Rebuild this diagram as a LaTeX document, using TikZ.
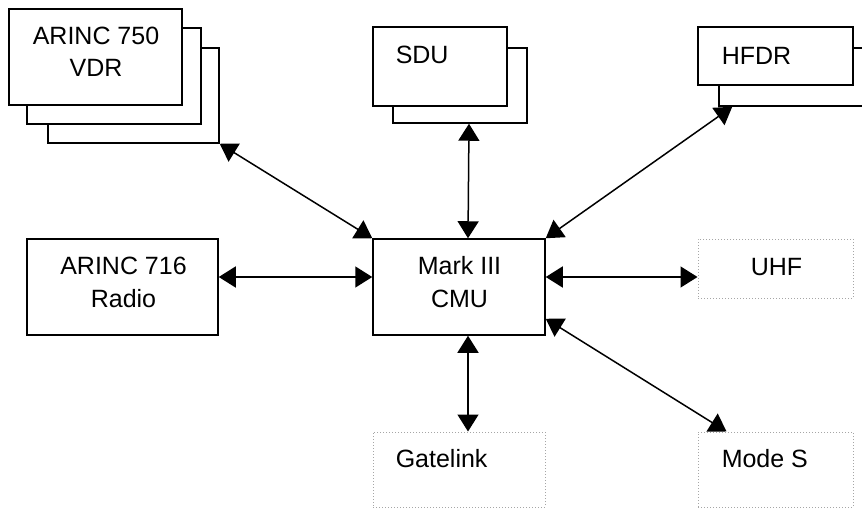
\documentclass[tikz,border=0pt]{standalone}
\usepackage{fontspec}
\setmainfont{Liberation Sans}
\usetikzlibrary{arrows.meta}
\begin{document}
\begin{tikzpicture}[x=1pt, y=-1pt, line width=1.5pt,
  unit node/.style={rectangle,draw,fill=white,inner sep=0pt},
  link node/.style={rectangle,draw=gray!70,dotted,line width=1pt,inner sep=0pt},
  link/.style={{Triangle[length=17pt,width=21pt]}-{Triangle[length=17pt,width=21pt]}}]
\useasboundingbox (0,0) rectangle (862,524);
\begin{scope}[every node/.style={unit node}]
\node[minimum width=171, minimum height=95] (vdr3) at (133.5,95.5) {};
\node[minimum width=174, minimum height=96] (vdr2) at (114,76) {};
\node[minimum width=173, minimum height=96] (vdr) at (95.5,57) {};
\node[minimum width=134, minimum height=75] (sdu2) at (460,85.5) {};
\node[minimum width=134, minimum height=79] (sdu) at (440,66.5) {};
\node[minimum width=155, minimum height=58] (hfdr2) at (796.5,77) {};
\node[minimum width=155, minimum height=58] (hfdr) at (775.5,56) {};
\node[minimum width=191, minimum height=96] (radio) at (122.5,287) {};
\node[minimum width=172, minimum height=96] (cmu) at (459,287) {};
%\node[] () at (,) {};
\end{scope}
\begin{scope}[every node/.style={link node}]
\node[minimum width=155, minimum height=59] (uhf) at (775.5,268.5) {};
\node[minimum width=172, minimum height=75] (gate) at (459,469.5) {};
\node[minimum width=155, minimum height=75] (modes) at (775.5,469.5) {};
\end{scope}
\begin{scope}[every node/.style={font=\fontsize{25}{32.5}\selectfont,inner sep=0pt,align=center}]
\node[anchor=base] (vdr-t) at (96,77) {ARINC 750\\VDR};
\node[anchor=base west] (sdu-t) at (395,64) {SDU};
\node[anchor=base west] (hfdr-t) at (721,65) {HFDR};
\node[anchor=base] (radio-t) at (123.5,307) {ARINC 716\\Radio};
\node[anchor=base] (cmu-t) at (459.5,307) {Mark III\\CMU};
\node[anchor=base] (uhf-t) at (776.5,275) {UHF};
\node[anchor=base west] (gate-t) at (395,467) {Gatelink};
\node[anchor=base west] (modes-t) at (721,467) {Mode S};
\end{scope}
\draw[link] (vdr3.south east) -- (cmu.north west);
\draw[link] ([xshift=9pt]sdu2.south) -- ([xshift=9pt]cmu.north);
\draw[link] (cmu.north east) -- ([xshift=14pt]hfdr2.south west);
\draw[link] ([yshift=10pt]radio.east) -- ([yshift=10pt]cmu.west);
\draw[link] ([yshift=10pt]cmu.east) -- ([yshift=10pt]cmu.east -| uhf.west);
\draw[link] ([xshift=9pt]cmu.south) -- ([xshift=9pt]gate.north);
\draw[link] ([yshift=17pt]cmu.south east) -- ([xshift=29pt]modes.north west);
\end{tikzpicture}
\end{document}
